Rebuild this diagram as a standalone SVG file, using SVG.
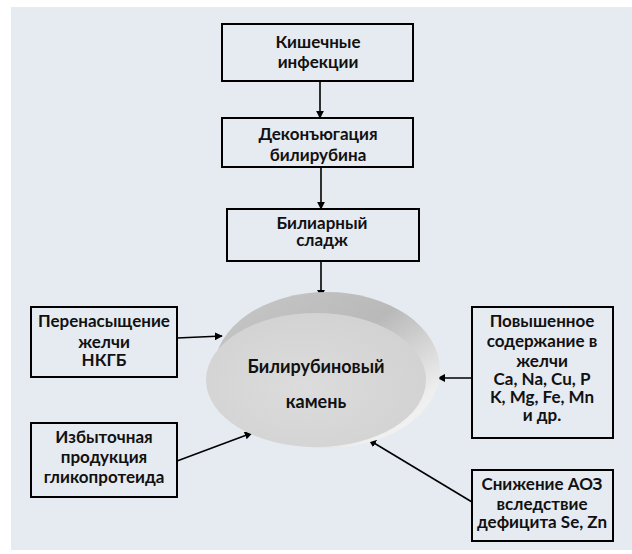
<svg xmlns="http://www.w3.org/2000/svg" width="632" height="554" viewBox="0 0 632 554">
  <style>
    .box { fill: none; stroke: #000; stroke-width: 2; }
    .lbl { font-family: "Lato", "Liberation Sans", sans-serif; font-weight: bold; font-size: 17px; fill: #111; text-anchor: middle; }
    .big { font-size: 18px; }
    .con { stroke: #000; stroke-width: 1.6; fill: none; marker-end: url(#arrow); }
  </style>
  <defs>
    <marker id="arrow" viewBox="0 0 10 10" refX="9" refY="5" markerWidth="5" markerHeight="5" orient="auto" markerUnits="strokeWidth">
      <path d="M0,0 L10,5 L0,10 z" fill="#000"/>
    </marker>
    <linearGradient id="discBack" x1="0" y1="0" x2="1" y2="1">
      <stop offset="0" stop-color="#c8c8c8"/>
      <stop offset="0.45" stop-color="#b9b9b9"/>
      <stop offset="0.8" stop-color="#eeeeee"/>
      <stop offset="1" stop-color="#fafafa"/>
    </linearGradient>
    <radialGradient id="discFace" cx="0.45" cy="0.55" r="0.6">
      <stop offset="0" stop-color="#dcdcdc"/>
      <stop offset="1" stop-color="#d2d2d2"/>
    </radialGradient>
  </defs>

  <!-- backdrop panel -->
  <rect x="11" y="7" width="621" height="543" fill="#e6eaf1"/>

  <!-- connectors -->
  <g id="connectors">
    <line class="con" x1="320" y1="81" x2="320" y2="118"/>
    <line class="con" x1="321" y1="167" x2="321" y2="209"/>
    <line class="con" x1="321" y1="261" x2="321" y2="297"/>
    <line class="con" x1="177" y1="338" x2="222" y2="336"/>
    <line class="con" x1="472" y1="378" x2="438" y2="378"/>
    <line class="con" x1="177" y1="461" x2="252" y2="433"/>
    <line class="con" x1="472" y1="502" x2="369" y2="440"/>
  </g>

  <g id="intestinal-infections">
    <rect class="box" x="222" y="24" width="191" height="57" stroke-width="2.5"/>
    <text class="lbl" x="318" y="48">Кишечные</text>
    <text class="lbl" x="318" y="68">инфекции</text>
  </g>

  <g id="deconjugation">
    <rect class="box" x="222" y="118" width="191" height="49" stroke-width="1.5"/>
    <text class="lbl" x="318" y="140">Деконъюгация</text>
    <text class="lbl" x="318" y="161">билирубина</text>
  </g>

  <g id="biliary-sludge">
    <rect class="box" x="227" y="209" width="192" height="52"/>
    <text class="lbl" x="322" y="229">Билиарный</text>
    <text class="lbl" x="322" y="246">сладж</text>
  </g>

  <g id="stone">
    <ellipse cx="327" cy="370" rx="113" ry="78" fill="url(#discBack)"/>
    <ellipse cx="316" cy="380" rx="110" ry="67" fill="url(#discFace)"/>
    <text class="lbl big" x="316" y="373">Билирубиновый</text>
    <text class="lbl big" x="316" y="408">камень</text>
  </g>

  <g id="supersaturation">
    <rect class="box" x="31" y="307" width="146" height="70"/>
    <text class="lbl" x="104" y="327">Перенасыщение</text>
    <text class="lbl" x="104" y="348">желчи</text>
    <text class="lbl" x="104" y="366">НКГБ</text>
  </g>

  <g id="glycoprotein">
    <rect class="box" x="31" y="423" width="146" height="74"/>
    <text class="lbl" x="104" y="443">Избыточная</text>
    <text class="lbl" x="104" y="463">продукция</text>
    <text class="lbl" x="104" y="483">гликопротеида</text>
  </g>

  <g id="elements">
    <rect class="box" x="472" y="307" width="141" height="131"/>
    <text class="lbl" x="542" y="327">Повышенное</text>
    <text class="lbl" x="542" y="347">содержание в</text>
    <text class="lbl" x="542" y="367">желчи</text>
    <text class="lbl" x="542" y="385">Ca, Na, Cu, P</text>
    <text class="lbl" x="542" y="403">K, Mg, Fe, Mn</text>
    <text class="lbl" x="542" y="421">и др.</text>
  </g>

  <g id="antioxidant">
    <rect class="box" x="472" y="470" width="141" height="71"/>
    <text class="lbl" x="542" y="490">Снижение АОЗ</text>
    <text class="lbl" x="542" y="510">вследствие</text>
    <text class="lbl" x="542" y="528">дефицита Se, Zn</text>
  </g>
</svg>
